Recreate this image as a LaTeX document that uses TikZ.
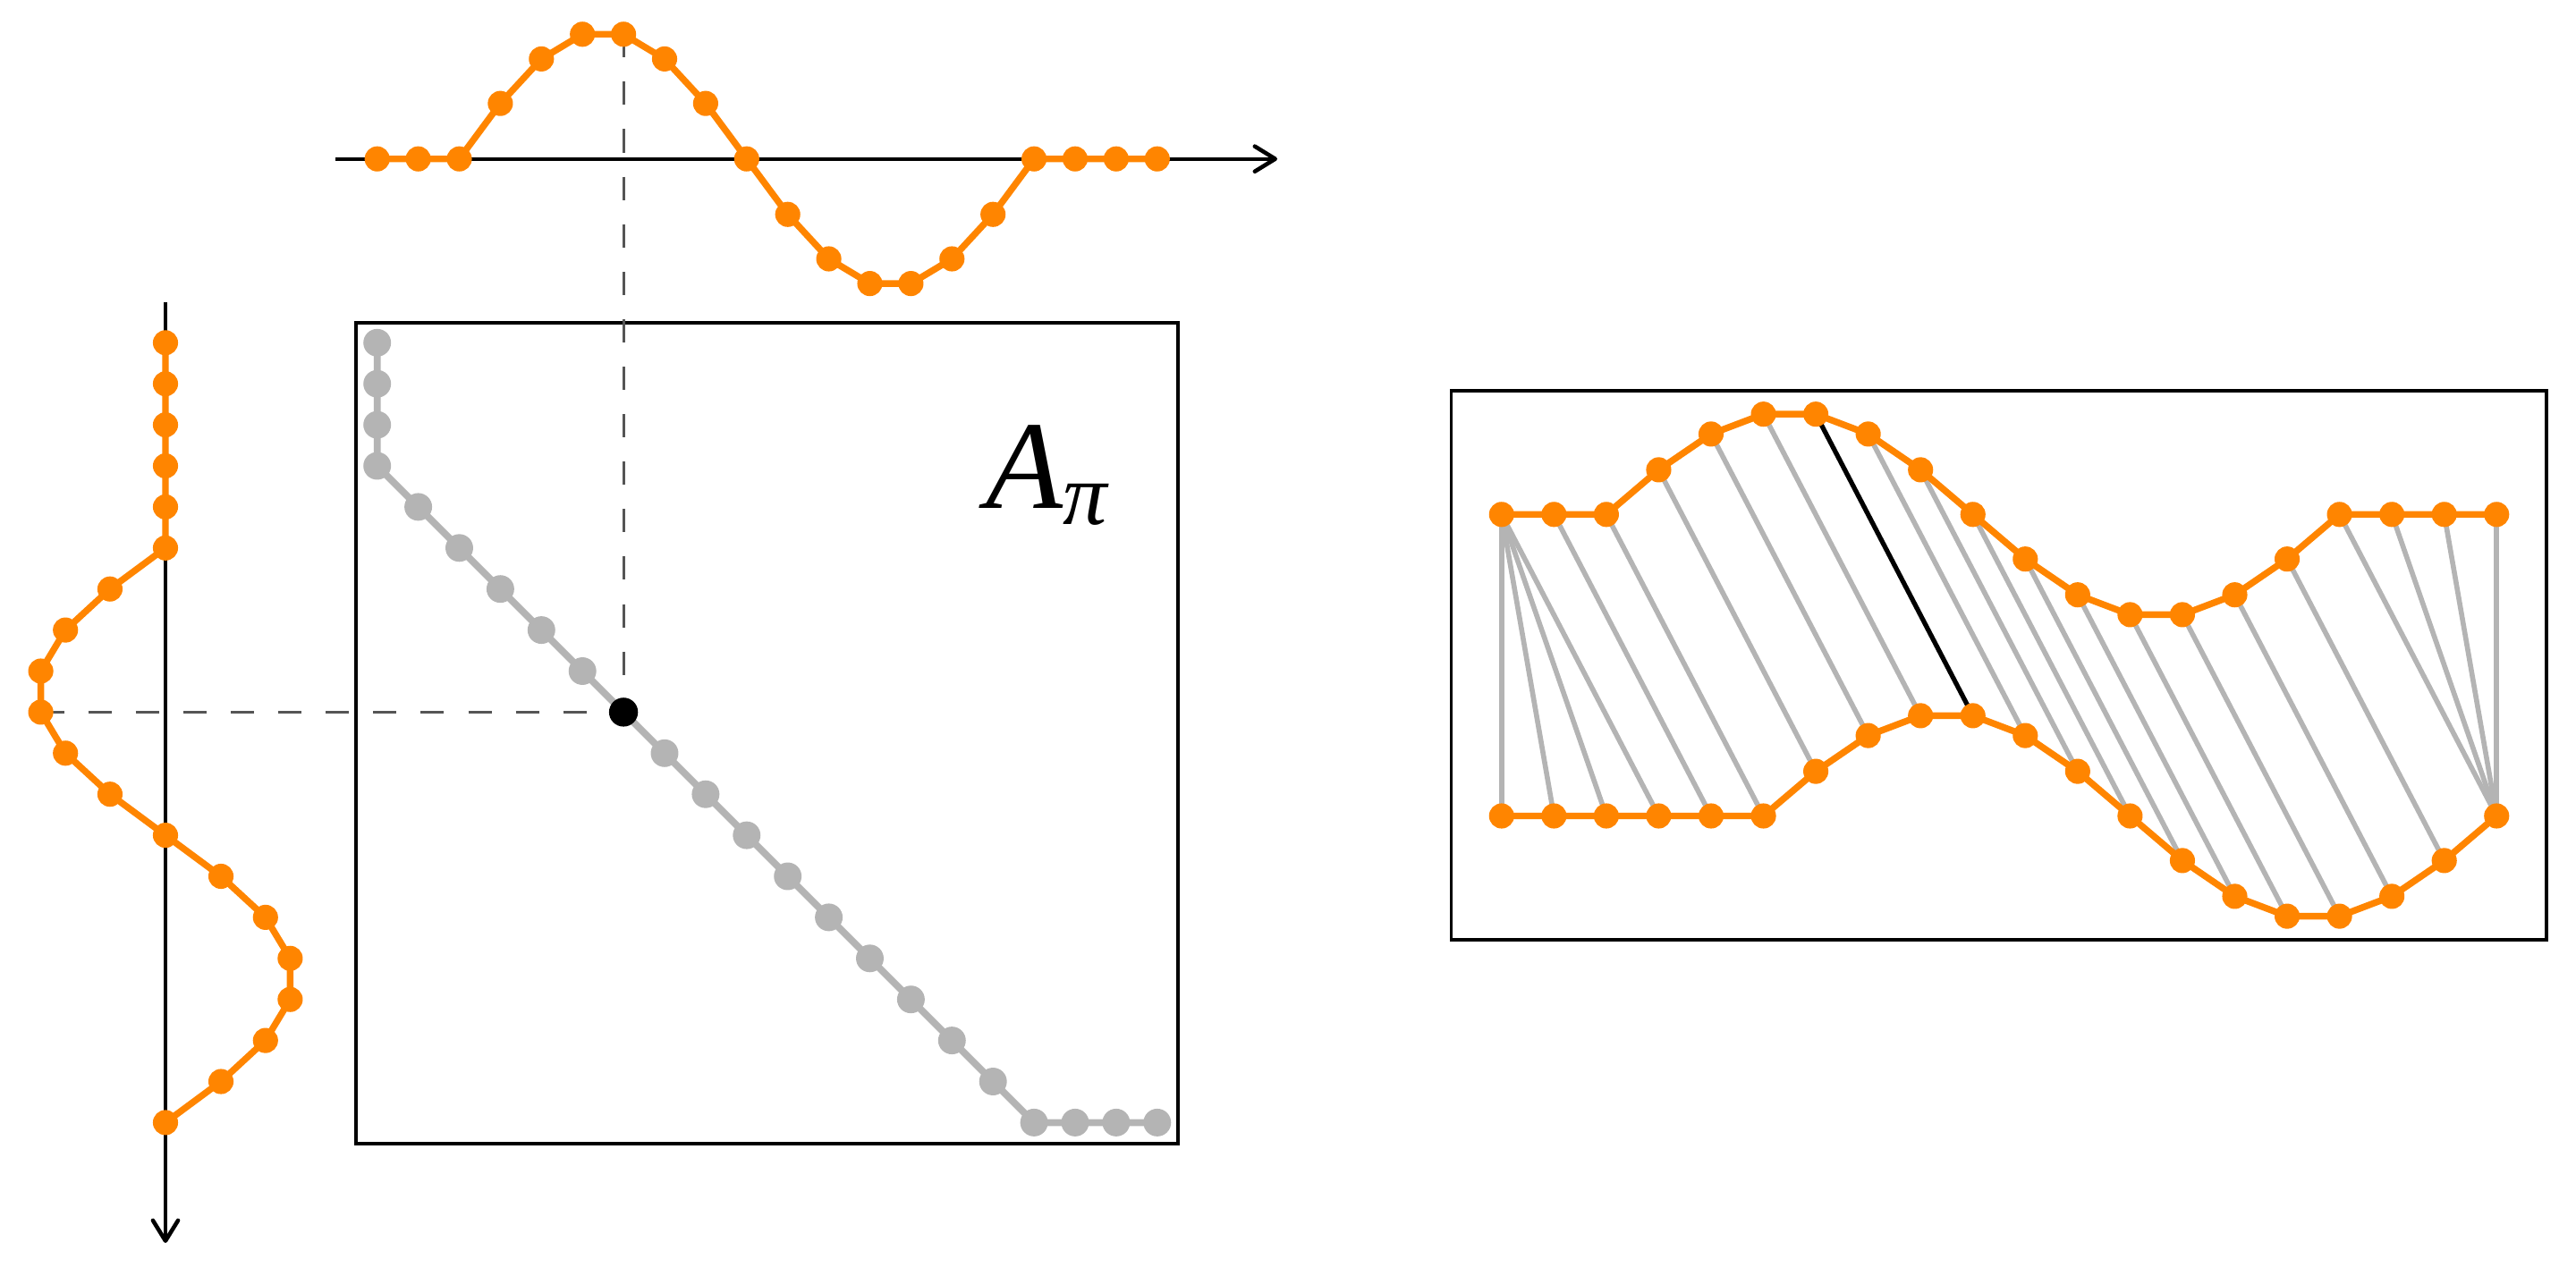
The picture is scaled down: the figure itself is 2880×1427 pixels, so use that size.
\documentclass[tikz,border=0pt]{standalone}
\usepackage{fontspec}
\newfontfamily\tms{Liberation Serif}
\usetikzlibrary{arrows.meta}
\definecolor{sigorange}{RGB}{255,133,0}
\definecolor{pathgray}{RGB}{180,180,180}
\definecolor{dashgray}{RGB}{85,85,85}
\begin{document}
\begin{tikzpicture}[x=0.01cm,y=-0.01cm,
  axisline/.style={line width=1.1pt, -{Straight Barb[length=6.5pt,width=8pt,round,line width=1.3pt]}},
  frame/.style={line width=1.1pt},
  guide/.style={dashgray, line width=0.8pt, dash pattern=on 7.4pt off 7.7pt},
  sigline/.style={sigorange, line width=2.1pt, line join=round},
  sigdot/.style={circle, fill=sigorange, inner sep=0pt, minimum size=8pt},
  pathline/.style={pathgray, line width=2.2pt, line join=round},
  pathdot/.style={circle, fill=pathgray, inner sep=0pt, minimum size=8.8pt},
  seldot/.style={circle, fill=black, inner sep=0pt, minimum size=9.2pt},
  matchline/.style={pathgray, line width=1.6pt},
  selline/.style={black, line width=1.5pt}
]
\useasboundingbox (0,0) rectangle (2880,1427);

% ---- coordinates of the two signals, the grid and the right panel
\foreach \i in {1,...,20}{
  \pgfmathsetmacro\sv{(\i>=3)*(\i<=17)*sin((\i-3)*180/7)}
  \pgfmathsetmacro\sw{(\i>=6)*sin((\i-6)*180/7)}
  \pgfmathsetmacro\xx{421.7+(\i-1)*45.9}
  \pgfmathsetmacro\yy{383.3+(\i-1)*45.9}
  \pgfmathsetmacro\rx{1678.8+(\i-1)*58.55}
  \coordinate (t\i) at (\xx, {177.7-143*\sv});
  \coordinate (l\i) at ({185-143*\sw}, \yy);
  \coordinate (u\i) at (\rx, {575.3-115*\sv});
  \coordinate (w\i) at (\rx, {912.5-115*\sw});
}
\foreach \a/\b [count=\k] in {1/1,1/2,1/3,1/4,2/5,3/6,4/7,5/8,6/9,7/10,8/11,9/12,10/13,11/14,12/15,13/16,14/17,15/18,16/19,17/20,18/20,19/20,20/20}{
  \coordinate (m\k) at (t\a |- l\b);
}

% ---- axes
\coordinate (ta0) at (375.4,177.7);
\coordinate (ta1) at (1428,177.7);
\coordinate (la0) at (185,337.5);
\coordinate (la1) at (185,1390);
\draw[axisline] (ta0) -- (ta1);
\draw[axisline] (la0) -- (la1);

% ---- frames
\coordinate (mb0) at (398.3,360.7);
\coordinate (mb1) at (1317.3,1278.7);
\coordinate (rb0) at (1622.5,437);
\coordinate (rb1) at (2846.6,1051);
\draw[frame] (mb0) rectangle (mb1);
\draw[frame] (rb0) rectangle (rb1);

% ---- dashed guides
\draw[guide] (t7) -- (m10);
\draw[guide] (l10) -- (m10);

% ---- matching lines in right panel
\foreach \a/\b in {1/1,1/2,1/3,1/4,2/5,3/6,4/7,5/8,6/9,8/11,9/12,10/13,11/14,12/15,13/16,14/17,15/18,16/19,17/20,18/20,19/20,20/20}{
  \draw[matchline] (u\a) -- (w\b);
}
\draw[selline] (u7) -- (w10);

% ---- polylines
\draw[sigline] (t1) \foreach \i in {2,...,20}{ -- (t\i)};
\draw[sigline] (l1) \foreach \i in {2,...,20}{ -- (l\i)};
\draw[sigline] (u1) \foreach \i in {2,...,20}{ -- (u\i)};
\draw[sigline] (w1) \foreach \i in {2,...,20}{ -- (w\i)};
\draw[pathline] (m1) \foreach \k in {2,...,23}{ -- (m\k)};

% ---- dots
\foreach \i in {1,...,20}{
  \node[sigdot] (td\i) at (t\i) {};
  \node[sigdot] (ld\i) at (l\i) {};
  \node[sigdot] (ud\i) at (u\i) {};
  \node[sigdot] (wd\i) at (w\i) {};
}
\foreach \k in {1,...,23}{
  \node[pathdot] (md\k) at (m\k) {};
}
\node[seldot] (sel) at (m10) {};

% ---- label
\node[anchor=base west, inner sep=0pt] (lbl) at (1102,568)
  {\fontsize{40}{41}\selectfont\tms\itshape A\raisebox{-5.4pt}{\fontsize{28}{29}\selectfont π}};
\end{tikzpicture}
\end{document}
